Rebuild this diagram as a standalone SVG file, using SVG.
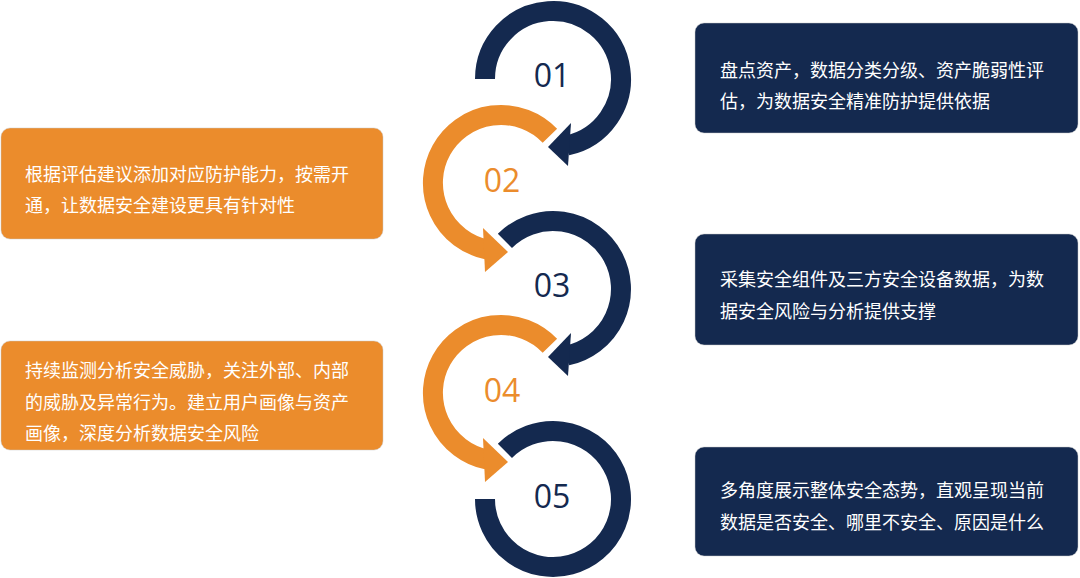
<svg xmlns="http://www.w3.org/2000/svg" width="1080" height="578" viewBox="0 0 1080 578">
<style>
.navy{fill:#14294f}
.org{fill:#eb8c2c}
.box{stroke:#c8c8c8;stroke-width:0.8;stroke-opacity:0.6}
.ringN{fill:none;stroke:#14294f;stroke-width:20}
.ringO{fill:none;stroke:#eb8c2c;stroke-width:20}
.txt{font-family:"Noto Sans CJK SC","Noto Sans",sans-serif;font-size:18px;fill:#ffffff}
.num{font-family:"Open Sans","Noto Sans",sans-serif;font-size:32px;text-anchor:middle}
</style>
<rect width="1080" height="578" fill="#ffffff"/>
<g id="connectors">
<path class="ringN" d="M485,79 A68,68 0 1 1 567.1,145.5"/>
<polygon class="navy" points="571,123 548,147 568,166"/>
<path class="ringO" d="M549.9,135.8 A68,68 0 1 0 486.9,249.5"/>
<polygon class="org" points="483,228 508,252 485,272"/>
<path class="ringN" d="M504.9,240.9 A68,68 0 1 1 567.1,355.5"/>
<polygon class="navy" points="571,333 548,357 568,376"/>
<path class="ringO" d="M549.9,345.8 A68,68 0 1 0 486.9,459.5"/>
<polygon class="org" points="483,438 508,462 485,482"/>
<path class="ringN" d="M504.9,450.9 A68,68 0 1 1 485,499"/>
</g>
<g id="step01">
<text class="num" x="552" y="87" fill="#14294f">01</text>
<rect class="navy box" x="695" y="23" width="383" height="110" rx="9"/>
<text class="txt" x="720" y="77">盘点资产，数据分类分级、资产脆弱性评</text>
<text class="txt" x="720" y="108">估，为数据安全精准防护提供依据</text>
</g>
<g id="step02">
<text class="num" x="502" y="192" fill="#eb8c2c">02</text>
<rect class="org box" x="1" y="128" width="382" height="111" rx="9"/>
<text class="txt" x="25" y="181">根据评估建议添加对应防护能力，按需开</text>
<text class="txt" x="25" y="212">通，让数据安全建设更具有针对性</text>
</g>
<g id="step03">
<text class="num" x="552" y="297" fill="#14294f">03</text>
<rect class="navy box" x="695" y="234" width="383" height="111" rx="9"/>
<text class="txt" x="720" y="286">采集安全组件及三方安全设备数据，为数</text>
<text class="txt" x="720" y="318">据安全风险与分析提供支撑</text>
</g>
<g id="step04">
<text class="num" x="502" y="402" fill="#eb8c2c">04</text>
<rect class="org box" x="1" y="341" width="382" height="109" rx="9"/>
<text class="txt" x="25" y="377">持续监测分析安全威胁，关注外部、内部</text>
<text class="txt" x="25" y="408.5">的威胁及异常行为。建立用户画像与资产</text>
<text class="txt" x="25" y="440">画像，深度分析数据安全风险</text>
</g>
<g id="step05">
<text class="num" x="552" y="508" fill="#14294f">05</text>
<rect class="navy box" x="695" y="447" width="383" height="109" rx="9"/>
<text class="txt" x="720" y="497">多角度展示整体安全态势，直观呈现当前</text>
<text class="txt" x="720" y="529">数据是否安全、哪里不安全、原因是什么</text>
</g>
</svg>
